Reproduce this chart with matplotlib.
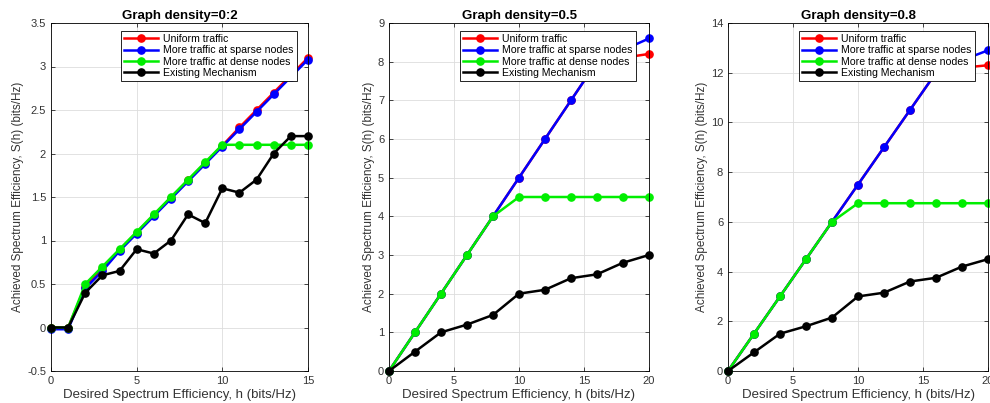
import matplotlib
matplotlib.use("Agg")
import matplotlib.pyplot as plt

plt.rcParams.update({
    "font.family": ["Liberation Sans", "DejaVu Sans"],
    "xtick.direction": "in", "ytick.direction": "in",
    "xtick.top": True, "ytick.right": True,
    "axes.linewidth": 0.6,
})

LABELS = ["Uniform traffic", "More traffic at sparse nodes",
          "More traffic at dense nodes", "Existing Mechanism"]
COLORS = ["#ff0000", "#0000ff", "#00ee00", "#000000"]

# panel 1: graph density 0.2
h1 = list(range(16))
uni1 = [0, 0, 0.47, 0.67, 0.89, 1.09, 1.29, 1.49, 1.69, 1.89, 2.09, 2.30, 2.50, 2.70, 2.90, 3.10]
spa1 = [-0.02, -0.02, 0.45, 0.65, 0.88, 1.08, 1.28, 1.48, 1.68, 1.88, 2.08, 2.28, 2.48, 2.68, 2.88, 3.08]
den1 = [0, 0, 0.5, 0.7, 0.9, 1.1, 1.3, 1.5, 1.7, 1.9, 2.1, 2.1, 2.1, 2.1, 2.1, 2.1]
ext1 = [0, 0, 0.4, 0.6, 0.65, 0.9, 0.85, 1.0, 1.3, 1.2, 1.6, 1.55, 1.7, 2.0, 2.2, 2.2]

# panel 2: graph density 0.5
h2 = [0, 2, 4, 6, 8, 10, 12, 14, 16, 18, 20]
uni2 = [0, 1, 2, 3, 4, 5, 6, 7, 8, 8.1, 8.2]
spa2 = [0, 1, 2, 3, 4, 5, 6, 7, 8, 8.3, 8.6]
den2 = [0, 1, 2, 3, 4, 4.5, 4.5, 4.5, 4.5, 4.5, 4.5]
ext2 = [0, 0.5, 1.0, 1.2, 1.45, 2.0, 2.1, 2.4, 2.5, 2.8, 3.0]

# panel 3: graph density 0.8
h3 = [0, 2, 4, 6, 8, 10, 12, 14, 16, 18, 20]
uni3 = [0, 1.5, 3, 4.5, 6, 7.5, 9, 10.5, 12, 12.2, 12.3]
spa3 = [0, 1.5, 3, 4.5, 6, 7.5, 9, 10.5, 12, 12.5, 12.9]
den3 = [0, 1.5, 3, 4.5, 6, 6.75, 6.75, 6.75, 6.75, 6.75, 6.75]
ext3 = [0, 0.75, 1.5, 1.8, 2.15, 3.0, 3.15, 3.6, 3.75, 4.2, 4.5]

panels = [
    ("Graph density=0:2", h1, [uni1, spa1, den1, ext1], (0, 15), [0, 5, 10, 15],
     (-0.5, 3.5), [-0.5, 0, 0.5, 1, 1.5, 2, 2.5, 3, 3.5], ["-0.5", "0", "0.5", "1", "1.5", "2", "2.5", "3", "3.5"]),
    ("Graph density=0.5", h2, [uni2, spa2, den2, ext2], (0, 20), [0, 5, 10, 15, 20],
     (0, 9), list(range(10)), [str(v) for v in range(10)]),
    ("Graph density=0.8", h3, [uni3, spa3, den3, ext3], (0, 20), [0, 5, 10, 15, 20],
     (0, 14), list(range(0, 15, 2)), [str(v) for v in range(0, 15, 2)]),
]

lefts = [51 / 990, 389 / 990, 728 / 990]
widths = [257 / 990, 260 / 990, 260 / 990]
legend_x = [121, 460, 799]

fig = plt.figure(figsize=(9.9, 4.03), dpi=100)
for i, (title, h, series, xl, xt, yl, yt, ytl) in enumerate(panels):
    ax = fig.add_axes([lefts[i], 32 / 403, widths[i], 348 / 403])
    for ys, c, lab in zip(series, COLORS, LABELS):
        ax.plot(h, ys, "-o", color=c, lw=1.8, ms=5.2, label=lab, clip_on=False)
    ax.set_xlim(*xl)
    ax.set_ylim(*yl)
    ax.set_xticks(xt)
    ax.set_yticks(yt)
    ax.set_yticklabels(ytl)
    ax.grid(True, color="#dddddd", lw=0.6)
    ax.set_axisbelow(True)
    ax.tick_params(labelsize=8, labelcolor="#333333", length=3, width=0.5)
    ax.set_title(title, fontsize=9.5, fontweight="bold", pad=3)
    ax.set_xlabel("Desired Spectrum Efficiency, h (bits/Hz)", fontsize=9.5,
                  color="#333333", labelpad=2)
    ax.set_ylabel("Achieved Spectrum Efficiency, S(h) (bits/Hz)", fontsize=8.5,
                  color="#333333", labelpad=2)
    # legend box placed in pixel terms
    lx = (legend_x[i] / 990 - lefts[i]) / widths[i]
    leg = ax.legend(loc="upper left", bbox_to_anchor=(lx, 1 - 8 / 348),
                    fontsize=7.6, handlelength=3.2, handletextpad=0.5,
                    borderpad=0.3, labelspacing=0.12, borderaxespad=0,
                    frameon=True, fancybox=False, edgecolor="black",
                    framealpha=1)
    leg.get_frame().set_linewidth(0.6)
    leg.set_zorder(5)

fig.savefig("out.png", dpi=100)
